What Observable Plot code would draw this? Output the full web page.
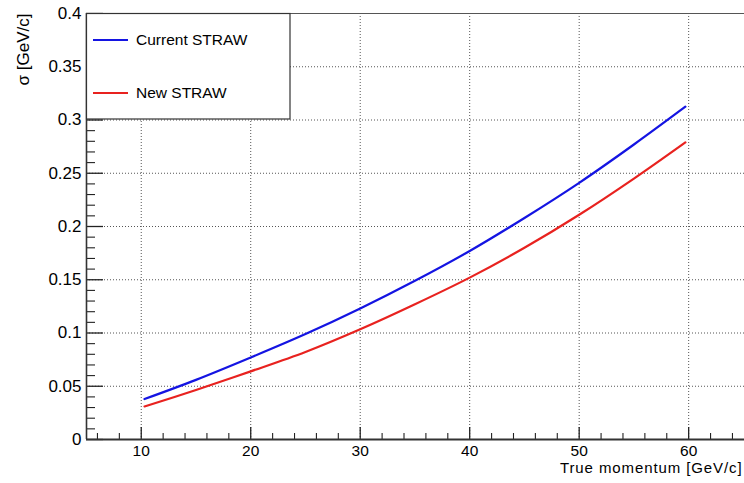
<!DOCTYPE html>
<html>
<head>
<meta charset="utf-8">
<script src="https://cdn.jsdelivr.net/npm/d3@7"></script>
<script src="https://cdn.jsdelivr.net/npm/@observablehq/plot@0.6"></script>
<style>
  html, body { margin: 0; padding: 0; background: #fff; }
  #chart { width: 744px; height: 483px; }
</style>
</head>
<body>
<div id="chart"></div>
<script>
// ---- data ----
const momentum     = [10.3, 15, 20, 25, 30, 35, 40, 45, 50, 55, 59.7];
const currentStraw = [0.038, 0.056, 0.077, 0.099, 0.123, 0.149, 0.177, 0.208, 0.241, 0.277, 0.3125];
const newStraw     = [0.031, 0.0465, 0.064, 0.0822, 0.1035, 0.127, 0.152, 0.180, 0.211, 0.245, 0.279];
const seriesNames  = ["Current STRAW", "New STRAW"];
const seriesColors = ["#1414e2", "#e8221f"];

// ---- axes ----
const xDomain = [5, 65.1];
const yDomain = [0, 0.4];
const xMajorTicks = [10, 20, 30, 40, 50, 60];
const xTickLabels = ["10", "20", "30", "40", "50", "60"];
const xMinorTicks = [6, 8, 12, 14, 16, 18, 22, 24, 26, 28, 32, 34, 36, 38, 42, 44, 46, 48, 52, 54, 56, 58, 62, 64];
const yMajorTicks = [0, 0.05, 0.1, 0.15, 0.2, 0.25, 0.3, 0.35, 0.4];
const yTickLabels = ["0", "0.05", "0.1", "0.15", "0.2", "0.25", "0.3", "0.35", "0.4"];
const yGridTicks  = [0.05, 0.1, 0.15, 0.2, 0.25, 0.3, 0.35];
const yMinorTicks = d3.range(1, 40).filter(k => k % 5 !== 0).map(k => k / 100);
const xTitle = "True momentum [GeV/c]";
const yTitle = "σ [GeV/c]";

// ---- layout ----
const W = 744, H = 483, mL = 86, mR = 0, mT = 13, mB = 44;
const innerW = W - mL - mR, innerH = H - mT - mB;
const FONT = "'Liberation Sans', Arial, Helvetica, sans-serif";

const rows = momentum.flatMap((p, i) => [
  {p, sigma: currentStraw[i], series: seriesNames[0]},
  {p, sigma: newStraw[i], series: seriesNames[1]}
]);

const xLabelMap = new Map(xMajorTicks.map((v, i) => [v, xTickLabels[i]]));
const yLabelMap = new Map(yMajorTicks.map((v, i) => [v, yTickLabels[i]]));

const gridStyle = {stroke: "#555", strokeOpacity: 1, strokeWidth: 1, strokeDasharray: "1,2"};

const plot = Plot.plot({
  width: W, height: H,
  marginLeft: mL, marginRight: mR, marginTop: mT, marginBottom: mB,
  style: {fontFamily: FONT, fontSize: "16px", background: "#fff", color: "#000"},
  x: {domain: xDomain},
  y: {domain: yDomain},
  color: {domain: seriesNames, range: seriesColors},
  marks: [
    Plot.gridX(xMajorTicks, gridStyle),
    Plot.gridY(yGridTicks, gridStyle),
    Plot.line(rows, {x: "p", y: "sigma", stroke: "series", strokeWidth: 2.2, curve: "catmull-rom"}),
    Plot.ruleX(xMajorTicks, {x: d => d, insetTop: innerH - 12, stroke: "#222", strokeWidth: 1.3}),
    Plot.ruleX(xMinorTicks, {x: d => d, insetTop: innerH - 6, stroke: "#222", strokeWidth: 1.1}),
    Plot.ruleY(yMajorTicks, {y: d => d, insetRight: innerW - 17, stroke: "#222", strokeWidth: 1.3}),
    Plot.ruleY(yMinorTicks, {y: d => d, insetRight: innerW - 9, stroke: "#222", strokeWidth: 1.1}),
    Plot.ruleY([yDomain[1]], {stroke: "#555", strokeWidth: 1.2}),
    Plot.ruleX([xDomain[0]], {stroke: "#333", strokeWidth: 1.6}),
    Plot.ruleY([yDomain[0]], {stroke: "#333", strokeWidth: 2}),
    Plot.axisX(xMajorTicks, {tickSize: 0, tickPadding: 5, fontSize: 15.5, label: null, tickFormat: d => xLabelMap.get(d)}),
    Plot.axisY(yMajorTicks, {tickSize: 0, tickPadding: 5, fontSize: 17, label: null, tickFormat: d => yLabelMap.get(d)}),
    Plot.text([xTitle], {text: d => d, frameAnchor: "bottom-right", textAnchor: "end", lineAnchor: "bottom", dy: 33, dx: -2, fontSize: 15}),
    Plot.text([yTitle], {text: d => d, frameAnchor: "top-left", textAnchor: "end", lineAnchor: "bottom", rotate: -90, dx: -57.5, fontSize: 17})
  ]
});

// widen the x title slightly, like the reference's wide Helvetica
d3.select(plot).selectAll("text")
  .filter(function() { return this.textContent === xTitle; })
  .style("letter-spacing", "0.9px");

// ---- legend box (drawn on top, like ROOT's TLegend) ----
const svg = d3.select(plot);
const lg = svg.append("g")
  .attr("font-family", FONT).attr("font-size", 15.5).attr("text-anchor", "start");
lg.append("rect")
  .attr("x", mL + 0.5).attr("y", mT + 0.5)
  .attr("width", 203.5).attr("height", 105.5)
  .attr("fill", "#fff").attr("stroke", "#333").attr("stroke-width", 1.2);
const entryY = [40, 93];
seriesNames.forEach((name, i) => {
  lg.append("line")
    .attr("x1", 93).attr("x2", 128).attr("y1", entryY[i]).attr("y2", entryY[i])
    .attr("stroke", seriesColors[i]).attr("stroke-width", 2.2);
  lg.append("text")
    .attr("x", 136).attr("y", entryY[i]).attr("dy", "0.35em")
    .attr("text-anchor", "start")
    .attr("fill", "#000").text(name);
});

document.getElementById("chart").appendChild(plot);
</script>
</body>
</html>
